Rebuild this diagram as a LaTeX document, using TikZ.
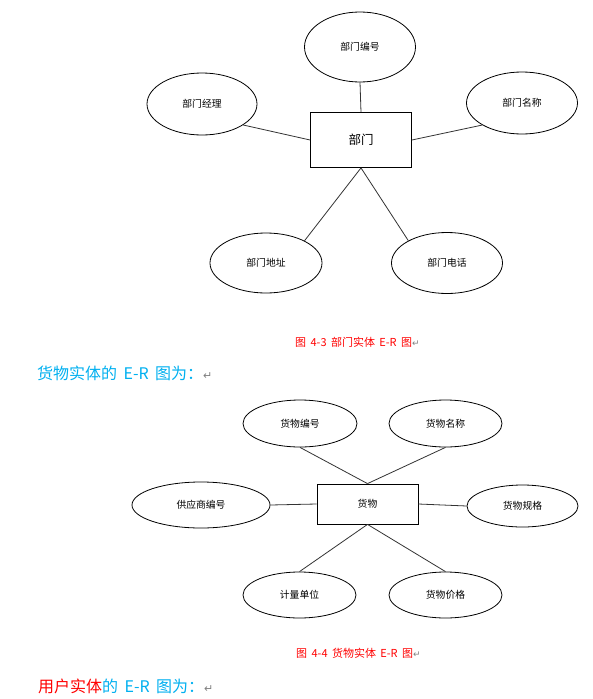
\documentclass[tikz,border=0pt]{standalone}
\usepackage{fontspec}
\usepackage{xcolor}
\usepackage{tikz}
\usetikzlibrary{positioning,shapes.geometric}
\newfontfamily\cjk{Noto Sans CJK SC}
\newfontfamily\dejavu{DejaVu Sans}
\definecolor{capred}{HTML}{FF0000}
\definecolor{headblue}{HTML}{00B0F0}
\definecolor{markgray}{HTML}{808080}
\newcommand{\retmark}[1]{{\dejavu\color{markgray}\fontsize{#1}{#1}\selectfont ↵}}
\newcommand{\hsp}{\hspace{0.4em}}

\begin{document}
\begin{tikzpicture}[
  x=1pt, y=-1pt,
  attr/.style={draw, ellipse, inner sep=0pt, line width=0.8pt,
               font=\cjk\fontsize{9.8}{11}\selectfont},
  ent/.style={draw, rectangle, inner sep=0pt, line width=0.8pt,
              minimum width=101pt},
  link/.style={line width=0.8pt, black!80},
  captext/.style={anchor=west, inner sep=0pt, text=capred,
                  font=\cjk\fontsize{11}{13}\selectfont},
  headtext/.style={anchor=west, inner sep=0pt, text=headblue,
                   font=\cjk\fontsize{16}{18}\selectfont}
]
\fill[white] (0,0) rectangle (593,699);
\useasboundingbox (0,0) rectangle (593,699);

\node[ent, minimum height=55pt, font=\cjk\fontsize{12.5}{14}\selectfont] (dept) at (361,140) {部门};
\node[attr, minimum width=111pt, minimum height=70pt] (deptnum) at (360,47) {部门编号};
\node[attr, minimum width=110pt, minimum height=62pt] (deptmgr) at (202,104) {部门经理};
\node[attr, minimum width=111pt, minimum height=62pt] (deptname) at (522,103) {部门名称};
\node[attr, minimum width=112pt, minimum height=60pt] (deptaddr) at (266,263) {部门地址};
\node[attr, minimum width=111pt, minimum height=61pt] (depttel) at (447,263) {部门电话};
\draw[link] (deptnum.south) -- (dept.north);
\draw[link] (deptmgr.-27) -- (dept.west);
\draw[link] (deptname.-151) -- (dept.east);
\draw[link] (dept.south) -- (deptaddr.30);
\draw[link] (dept.south) -- (depttel.150);

\node[captext] (cap1) at (295,342) {图\hsp 4-3\hsp 部门实体\hsp E-R\hsp 图\retmark{9}};
\node[headtext] (head1) at (37,373) {货物实体的\hsp E-R\hsp 图为：\retmark{11}};

\node[ent, minimum height=40pt, font=\cjk\fontsize{9.8}{11}\selectfont] (goods) at (367.5,504) {货物};
\node[attr, minimum width=114pt, minimum height=47pt] (goodsnum) at (300,423.5) {货物编号};
\node[attr, minimum width=113pt, minimum height=47pt] (goodsname) at (445.5,423.5) {货物名称};
\node[attr, minimum width=138pt, minimum height=46pt] (supplier) at (201,505) {供应商编号};
\node[attr, minimum width=111pt, minimum height=42pt] (goodsspec) at (522.5,506) {货物规格};
\node[attr, minimum width=113pt, minimum height=46pt] (unit) at (299.5,595) {计量单位};
\node[attr, minimum width=113pt, minimum height=46pt] (goodsprice) at (445.5,595) {货物价格};
\draw[link] (goodsnum.south) -- (goods.north);
\draw[link] (goodsname.south) -- (goods.north);
\draw[link] (supplier.east) -- (goods.west);
\draw[link] (goods.east) -- (goodsspec.west);
\draw[link] (goods.south) -- (unit.north);
\draw[link] (goods.south) -- (goodsprice.north);

\node[captext] (cap2) at (296,653) {图\hsp 4-4\hsp 货物实体\hsp E-R\hsp 图\retmark{9}};
\node[headtext] (head2) at (38,686) {\textcolor{capred}{用户实体}的\hsp E-R\hsp 图为：\retmark{11}};
\end{tikzpicture}
\end{document}
